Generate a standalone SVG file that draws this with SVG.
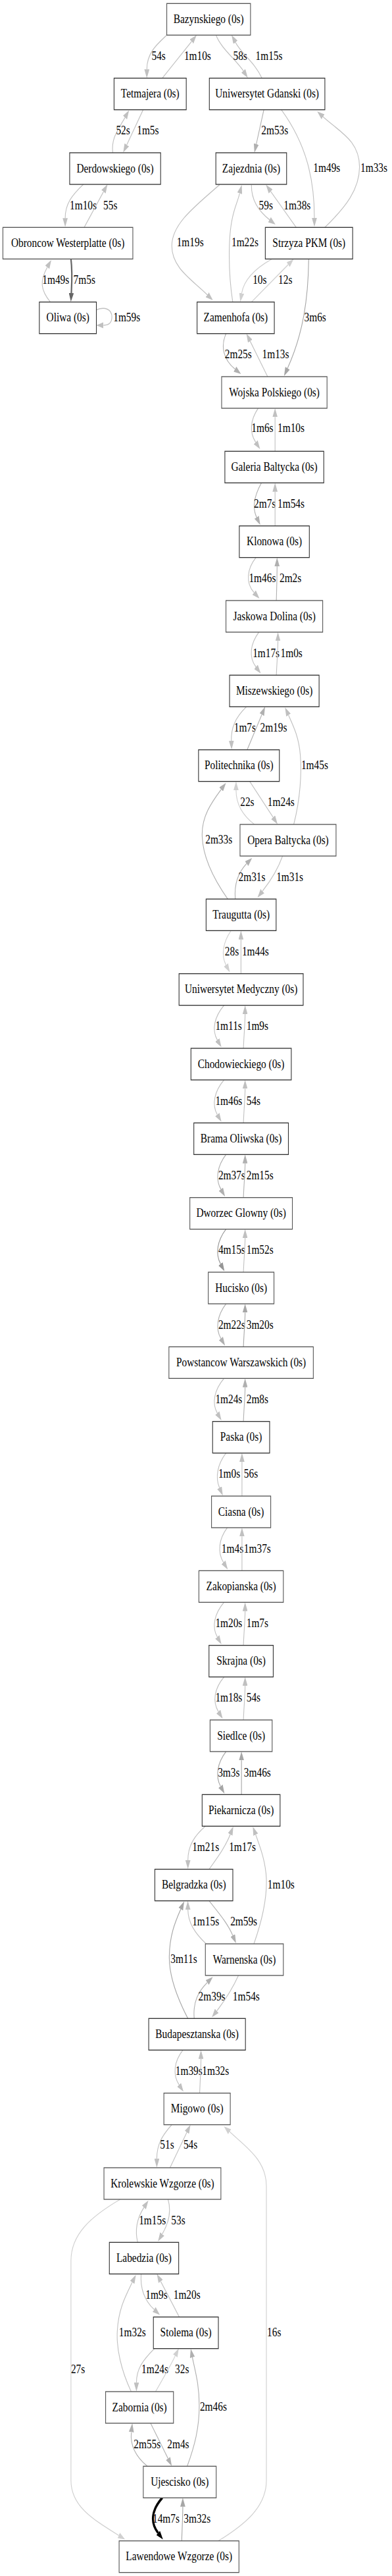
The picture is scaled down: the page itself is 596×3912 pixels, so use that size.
<svg xmlns="http://www.w3.org/2000/svg" width="596" height="3912" viewBox="0 0 596 3912">
<style>
.n rect{fill:#fff;stroke:#333;stroke-width:1}
.n.g rect{stroke:#555}
text{font-family:"Liberation Serif","Times New Roman",serif;font-size:14px;fill:#000}
.n text{text-anchor:middle}
#edges path{fill:none;stroke-width:1}
.A{stroke:#d0d0d0;marker-end:url(#mA)}
.B{stroke:#c0c0c0;marker-end:url(#mB)}
.C{stroke:#b0b0b0;marker-end:url(#mC)}
.D{stroke:#a6a6a6;marker-end:url(#mD)}
.E{stroke:#959595;marker-end:url(#mE)}
#edges .F{stroke:#666;stroke-width:2;marker-end:url(#mF)}
#edges .G{stroke:#000;stroke-width:3;marker-end:url(#mG)}
</style>
<defs>
<marker id="mA" viewBox="0 0 10 7" refX="0" refY="3.5" markerWidth="10" markerHeight="7" markerUnits="userSpaceOnUse" orient="auto"><path d="M0,0L10,3.5L0,7z" fill="#d0d0d0"/></marker>
<marker id="mB" viewBox="0 0 10 7" refX="0" refY="3.5" markerWidth="10" markerHeight="7" markerUnits="userSpaceOnUse" orient="auto"><path d="M0,0L10,3.5L0,7z" fill="#c0c0c0"/></marker>
<marker id="mC" viewBox="0 0 10 7" refX="0" refY="3.5" markerWidth="10" markerHeight="7" markerUnits="userSpaceOnUse" orient="auto"><path d="M0,0L10,3.5L0,7z" fill="#b0b0b0"/></marker>
<marker id="mD" viewBox="0 0 10 7" refX="0" refY="3.5" markerWidth="10" markerHeight="7" markerUnits="userSpaceOnUse" orient="auto"><path d="M0,0L10,3.5L0,7z" fill="#a6a6a6"/></marker>
<marker id="mE" viewBox="0 0 10 7" refX="0" refY="3.5" markerWidth="10" markerHeight="7" markerUnits="userSpaceOnUse" orient="auto"><path d="M0,0L10,3.5L0,7z" fill="#959595"/></marker>
<marker id="mF" viewBox="0 0 10 7" refX="0" refY="3.5" markerWidth="10" markerHeight="7" markerUnits="userSpaceOnUse" orient="auto"><path d="M0,0L10,3.5L0,7z" fill="#666"/></marker>
<marker id="mG" viewBox="0 0 10 7" refX="0" refY="3.5" markerWidth="10" markerHeight="7" markerUnits="userSpaceOnUse" orient="auto"><path d="M0,0L10,3.5L0,7z" fill="#000"/></marker>
</defs>
<rect width="596" height="3912" fill="#fff"/>
<g transform="scale(1.0976,1.33333)">
<g id="edges">
<path class="B" d="M231,40C218,50 203.4,60 203.4,79"/><text x="210" y="68">54s</text>
<path class="B" d="M224.8,89L265.4,47.2"/><text x="255" y="68">1m10s</text>
<path class="B" d="M299.3,40C305,54 328,69 337.1,80.75"/><text x="323" y="68">58s</text>
<path class="B" d="M362.8,89C352,70 335,62 326.2,48.3"/><text x="354" y="68">1m15s</text>
<path class="B" d="M198.3,125L175.6,165"/><text x="189.7" y="153">1m5s</text>
<path class="B" d="M156.2,174C154,158 162,150 173.1,133.9"/><text x="160.7" y="153">52s</text>
<path class="C" d="M365.5,125L355,164.1"/><text x="362" y="153">2m53s</text>
<path class="B" d="M389.7,125C425,165 435.5,205 435.5,248.3"/><text x="434" y="196">1m49s</text>
<path class="B" d="M450,259C480,235 498,215 498,190C498,160 470,150 447.4,133"/><text x="499.3" y="196">1m33s</text>
<path class="B" d="M115.5,210C100,222 90.3,232 90.3,248.5"/><text x="96.6" y="238.7">1m10s</text>
<path class="B" d="M116.6,259L143.4,218.3"/><text x="143.1" y="238.7">55s</text>
<path class="B" d="M304.1,210.5C270,235 238,255 238,280C238,305 265,318 287.1,335.75"/><text x="244.8" y="280.7">1m19s</text>
<path class="B" d="M322.4,344C316,310 316,270 322,248C325,236 329,230 332,220.2"/><text x="320.7" y="280.7">1m22s</text>
<path class="B" d="M348.3,210.5C348,228 358,240 373.3,250.25"/><text x="358.6" y="238.7">59s</text>
<path class="B" d="M410.3,259L374.9,218"/><text x="393" y="238.7">1m38s</text>
<path class="F" d="M98.3,295C100.5,310 99.5,322 98.8,333.75"/><text x="101.7" y="323.2">7m5s</text>
<path class="B" d="M69.7,344C56,330 55,320 65.5,304.4"/><text x="58.6" y="323.2">1m49s</text>
<path class="B" d="M133.4,353C145,349 155,352 155,361C155,368 150,370.5 143.4,370.5"/><text x="156.9" y="365.7">1m59s</text>
<path class="A" d="M376.6,295C355,305 338,318 334.8,334"/><text x="350" y="323.2">10s</text>
<path class="A" d="M348.3,344L399.2,301.4"/><text x="385.5" y="323.2">12s</text>
<path class="D" d="M427.6,295C427,340 420,380 398.3,419.4"/><text x="421.4" y="365.7">3m6s</text>
<path class="C" d="M313.1,380C305,395 310,410 325.5,420.4"/><text x="311.4" y="407.7">2m25s</text>
<path class="B" d="M370.7,429L346.5,388.6"/><text x="363.1" y="407.7">1m13s</text>
<path class="B" d="M357.6,465C347,478 345,492 354.1,503.6"/><text x="348.3" y="492">1m6s</text>
<path class="B" d="M381,514L381,475"/><text x="384.5" y="492">1m10s</text>
<path class="C" d="M362.1,550C352,565 349,578 355.5,589.2"/><text x="351.7" y="578.2">2m7s</text>
<path class="B" d="M381,599L381,560"/><text x="384.5" y="578.2">1m54s</text>
<path class="B" d="M354.5,635C342,648 340,664 352,675"/><text x="344.8" y="663.2">1m46s</text>
<path class="C" d="M382.8,684C383.3,670 383.8,655 383.8,645"/><text x="387.2" y="663.2">2m2s</text>
<path class="B" d="M358.6,720C347,733 344,748 354.5,759.6"/><text x="350" y="748.2">1m17s</text>
<path class="B" d="M382.8,769C383.5,755 385,740 385,730"/><text x="388.6" y="748.2">1m0s</text>
<path class="B" d="M341.4,805C325,818 320,830 320.5,843.75"/><text x="324.1" y="833.2">1m7s</text>
<path class="C" d="M342.4,854L362.7,813.9"/><text x="360.3" y="833.2">2m19s</text>
<path class="B" d="M406.9,939C416,910 418,880 416,860C414,840 407,828 399.6,814.5"/><text x="417.2" y="875.7">1m45s</text>
<path class="B" d="M345.9,890L378.3,930.9"/><text x="370.7" y="918.2">1m24s</text>
<path class="A" d="M352.4,939C335,928 327,915 327,900"/><text x="332.8" y="918.2">22s</text>
<path class="C" d="M315.5,1024C295,1000 280,975 280,950C280,930 292,915 306.3,899.2"/><text x="284.5" y="960.7">2m33s</text>
<path class="C" d="M325.9,1024C324,1005 332,992 341.6,983.7"/><text x="330.3" y="1003.7">2m31s</text>
<path class="B" d="M391.4,975C385,990 375,1003 363.6,1015"/><text x="382.8" y="1003.7">1m31s</text>
<path class="A" d="M320,1060C309,1073 306,1088 313,1099"/><text x="311.4" y="1088.2">28s</text>
<path class="B" d="M333.8,1109L333.8,1070"/><text x="335.2" y="1088.2">1m44s</text>
<path class="B" d="M310.3,1145C297,1158 293,1173 301,1184.5"/><text x="298.3" y="1173.2">1m11s</text>
<path class="B" d="M337.2,1194C337.8,1180 339.5,1165 339.5,1155"/><text x="341.4" y="1173.2">1m9s</text>
<path class="B" d="M310.3,1230C297,1243 293,1258 301,1269.5"/><text x="298.3" y="1258.7">1m46s</text>
<path class="B" d="M337.2,1279C337.8,1265 339.5,1250 339.5,1240"/><text x="341.4" y="1258.7">54s</text>
<path class="C" d="M313.1,1315C301,1328 298,1343 306,1354.5"/><text x="302.4" y="1343.2">2m37s</text>
<path class="C" d="M337.2,1364C337.8,1350 339.5,1335 339.5,1325"/><text x="341.4" y="1343.2">2m15s</text>
<path class="E" d="M313.1,1400C301,1413 298,1428 305.5,1439.5"/><text x="302.4" y="1428.2">4m15s</text>
<path class="B" d="M337.2,1449C337.8,1435 339.5,1420 339.5,1410"/><text x="341.4" y="1428.2">1m52s</text>
<path class="C" d="M313.1,1485C301,1498 298,1513 306,1524.5"/><text x="302.4" y="1513.7">2m22s</text>
<path class="D" d="M337.2,1534C337.8,1520 339.5,1505 339.5,1495"/><text x="341.4" y="1513.7">3m20s</text>
<path class="B" d="M310.3,1570C297,1583 293,1598 301,1609.5"/><text x="298.3" y="1598.2">1m24s</text>
<path class="C" d="M337.2,1619C337.8,1605 339.5,1590 339.5,1580"/><text x="341.4" y="1598.2">2m8s</text>
<path class="B" d="M313.1,1655C301,1668 298,1683 304,1694.5"/><text x="302.4" y="1683.2">1m0s</text>
<path class="B" d="M335.2,1704L335.2,1665"/><text x="337.9" y="1683.2">56s</text>
<path class="B" d="M314.8,1740C303,1753 301,1768 309.5,1779.5"/><text x="306.9" y="1768.7">1m4s</text>
<path class="B" d="M335.2,1789L335.2,1750"/><text x="337.9" y="1768.7">1m37s</text>
<path class="B" d="M310.3,1825C297,1838 293,1853 301,1864.5"/><text x="298.3" y="1853.2">1m20s</text>
<path class="B" d="M337.2,1874C337.8,1860 339.5,1845 339.5,1835"/><text x="341.4" y="1853.2">1m7s</text>
<path class="B" d="M310.3,1910C297,1923 294,1938 302.5,1949.5"/><text x="298.3" y="1938.2">1m18s</text>
<path class="B" d="M337.2,1959C337.8,1945 339.5,1930 339.5,1920"/><text x="341.4" y="1938.2">54s</text>
<path class="D" d="M313.1,1995C301,2008 298,2023 305.5,2034.5"/><text x="301.7" y="2023.2">3m3s</text>
<path class="D" d="M334.5,2044L334.5,2005"/><text x="337.9" y="2023.2">3m46s</text>
<path class="B" d="M284.5,2080C268,2092 260.3,2103 260.3,2118.75"/><text x="266.2" y="2108.2">1m21s</text>
<path class="B" d="M289.7,2129C300,2117 312,2104 318.9,2089.4"/><text x="317.2" y="2108.2">1m17s</text>
<path class="B" d="M351.7,2214C362,2190 370,2165 369,2140C368,2120 360,2103 354.2,2089.7"/><text x="370.7" y="2150.7">1m10s</text>
<path class="C" d="M289.7,2165C302,2178 315,2190 322.4,2204.4"/><text x="319" y="2193.2">2m59s</text>
<path class="B" d="M285.5,2214C270,2202 260.5,2190 260.3,2175"/><text x="266.2" y="2193.2">1m15s</text>
<path class="D" d="M260.3,2299C245,2275 234,2250 234.5,2228C235,2205 242,2190 250.4,2174.5"/><text x="236.2" y="2235.7">3m11s</text>
<path class="C" d="M269,2299C267,2280 275,2268 287.1,2258"/><text x="274.8" y="2278.7">2m39s</text>
<path class="B" d="M330.3,2250C322,2265 310,2280 300.3,2290.4"/><text x="322.4" y="2278.7">1m54s</text>
<path class="B" d="M253.4,2335C241,2348 239,2363 248,2374.5"/><text x="243.1" y="2363.2">1m39s</text>
<path class="B" d="M276.6,2384C277.2,2370 278.4,2355 278.4,2345"/><text x="280" y="2363.2">1m32s</text>
<path class="B" d="M237.9,2420C225,2432 217.2,2442 217.2,2458.75"/><text x="221.7" y="2447.5">51s</text>
<path class="B" d="M235.5,2469L258.8,2428.7"/><text x="254.1" y="2447.5">54s</text>
<path class="A" d="M302.4,2894C340,2875 369,2855 369,2825L369,2490C369,2460 340,2445 318.1,2428"/><text x="370" y="2660.7">16s</text>
<path class="B" d="M232.8,2505C238,2520 233,2533 224.7,2544.6"/><text x="237.2" y="2533.2">53s</text>
<path class="B" d="M190.7,2554C186,2538 191,2525 199.4,2514.2"/><text x="192.4" y="2533.2">1m15s</text>
<path class="A" d="M166.6,2505C125,2525 98.3,2545 98.3,2575L98.3,2825C98.3,2855 130,2870 164.4,2887.75"/><text x="98.3" y="2702.7">27s</text>
<path class="B" d="M195.5,2590C194,2607 200,2620 213.5,2630.5"/><text x="201.7" y="2618.2">1m9s</text>
<path class="B" d="M248.3,2639L222.6,2598.4"/><text x="240.3" y="2618.2">1m20s</text>
<path class="B" d="M181.7,2724C168,2700 161,2675 162.5,2655C164,2630 174,2615 183.2,2599.5"/><text x="164.8" y="2660.7">1m32s</text>
<path class="B" d="M213.8,2675C198,2688 189,2698 189,2713.75"/><text x="195.9" y="2702.7">1m24s</text>
<path class="A" d="M215.5,2724C225,2710 236,2695 242.7,2683.3"/><text x="242.4" y="2702.7">32s</text>
<path class="C" d="M259.3,2809C270,2785 276,2765 276,2740C276,2715 270,2700 266.5,2685"/><text x="276.9" y="2745.7">2m46s</text>
<path class="C" d="M208.6,2760L232.8,2800.2"/><text x="231.7" y="2788.2">2m4s</text>
<path class="C" d="M204.1,2809C188,2798 180,2785 182,2770"/><text x="185.2" y="2788.2">2m55s</text>
<path class="G" d="M224.8,2845C211,2858 207,2872 219,2885"/><text x="211.4" y="2873.2">14m7s</text>
<path class="D" d="M251.7,2894C252.3,2880 253.2,2865 253.2,2855"/><text x="254.5" y="2873.2">3m32s</text>
</g>
<g id="n-bazynskiego" class="n g"><rect x="231" y="4" width="116" height="36"/><text x="289" y="26.2">Bazynskiego (0s)</text></g>
<g id="n-tetmajera" class="n"><rect x="158" y="89" width="100" height="36"/><text x="208" y="111.2">Tetmajera (0s)</text></g>
<g id="n-uniwersytet-gdanski" class="n"><rect x="290" y="89" width="160" height="36"/><text x="370" y="111.2">Uniwersytet Gdanski (0s)</text></g>
<g id="n-derdowskiego" class="n"><rect x="96.5" y="174" width="126" height="36"/><text x="159.5" y="196.2">Derdowskiego (0s)</text></g>
<g id="n-zajezdnia" class="n"><rect x="299" y="174" width="98" height="36"/><text x="348" y="196.2">Zajezdnia (0s)</text></g>
<g id="n-obroncow-westerplatte" class="n g"><rect x="4" y="259" width="180" height="36"/><text x="94" y="281.2">Obroncow Westerplatte (0s)</text></g>
<g id="n-strzyza-pkm" class="n"><rect x="367.5" y="259" width="121" height="36"/><text x="428" y="281.2">Strzyza PKM (0s)</text></g>
<g id="n-oliwa" class="n"><rect x="54.5" y="344" width="79" height="36"/><text x="94" y="366.2">Oliwa (0s)</text></g>
<g id="n-zamenhofa" class="n"><rect x="273" y="344" width="107" height="36"/><text x="326.5" y="366.2">Zamenhofa (0s)</text></g>
<g id="n-wojska-polskiego" class="n g"><rect x="307" y="429" width="146" height="36"/><text x="380" y="451.2">Wojska Polskiego (0s)</text></g>
<g id="n-galeria-baltycka" class="n"><rect x="311.5" y="514" width="137" height="36"/><text x="380" y="536.2">Galeria Baltycka (0s)</text></g>
<g id="n-klonowa" class="n"><rect x="331.5" y="599" width="97" height="36"/><text x="380" y="621.2">Klonowa (0s)</text></g>
<g id="n-jaskowa-dolina" class="n g"><rect x="313" y="684" width="134" height="36"/><text x="380" y="706.2">Jaskowa Dolina (0s)</text></g>
<g id="n-miszewskiego" class="n"><rect x="318" y="769" width="124" height="36"/><text x="380" y="791.2">Miszewskiego (0s)</text></g>
<g id="n-politechnika" class="n"><rect x="275" y="854" width="112" height="36"/><text x="331" y="876.2">Politechnika (0s)</text></g>
<g id="n-opera-baltycka" class="n g"><rect x="332.5" y="939" width="133" height="36"/><text x="399" y="961.2">Opera Baltycka (0s)</text></g>
<g id="n-traugutta" class="n"><rect x="285.5" y="1024" width="97" height="36"/><text x="334" y="1046.2">Traugutta (0s)</text></g>
<g id="n-uniwersytet-medyczny" class="n"><rect x="248" y="1109" width="172" height="36"/><text x="334" y="1131.2">Uniwersytet Medyczny (0s)</text></g>
<g id="n-chodowieckiego" class="n"><rect x="264.5" y="1194" width="139" height="36"/><text x="334" y="1216.2">Chodowieckiego (0s)</text></g>
<g id="n-brama-oliwska" class="n"><rect x="268.5" y="1279" width="131" height="36"/><text x="334" y="1301.2">Brama Oliwska (0s)</text></g>
<g id="n-dworzec-glowny" class="n g"><rect x="263" y="1364" width="142" height="36"/><text x="334" y="1386.2">Dworzec Glowny (0s)</text></g>
<g id="n-hucisko" class="n g"><rect x="288.5" y="1449" width="91" height="36"/><text x="334" y="1471.2">Hucisko (0s)</text></g>
<g id="n-powstancow-warszawskich" class="n g"><rect x="234" y="1534" width="200" height="36"/><text x="334" y="1556.2">Powstancow Warszawskich (0s)</text></g>
<g id="n-paska" class="n"><rect x="294.5" y="1619" width="79" height="36"/><text x="334" y="1641.2">Paska (0s)</text></g>
<g id="n-ciasna" class="n g"><rect x="293" y="1704" width="82" height="36"/><text x="334" y="1726.2">Ciasna (0s)</text></g>
<g id="n-zakopianska" class="n g"><rect x="275.5" y="1789" width="117" height="36"/><text x="334" y="1811.2">Zakopianska (0s)</text></g>
<g id="n-skrajna" class="n"><rect x="289.5" y="1874" width="89" height="36"/><text x="334" y="1896.2">Skrajna (0s)</text></g>
<g id="n-siedlce" class="n g"><rect x="291" y="1959" width="86" height="36"/><text x="334" y="1981.2">Siedlce (0s)</text></g>
<g id="n-piekarnicza" class="n"><rect x="280" y="2044" width="108" height="36"/><text x="334" y="2066.2">Piekarnicza (0s)</text></g>
<g id="n-belgradzka" class="n"><rect x="214.5" y="2129" width="108" height="36"/><text x="268.5" y="2151.2">Belgradzka (0s)</text></g>
<g id="n-warnenska" class="n g"><rect x="284.5" y="2214" width="108" height="36"/><text x="338.5" y="2236.2">Warnenska (0s)</text></g>
<g id="n-budapesztanska" class="n"><rect x="206" y="2299" width="134" height="36"/><text x="273" y="2321.2">Budapesztanska (0s)</text></g>
<g id="n-migowo" class="n g"><rect x="227" y="2384" width="92" height="36"/><text x="273" y="2406.2">Migowo (0s)</text></g>
<g id="n-krolewskie-wzgorze" class="n g"><rect x="144" y="2469" width="162" height="36"/><text x="225" y="2491.2">Krolewskie Wzgorze (0s)</text></g>
<g id="n-labedzia" class="n"><rect x="151.5" y="2554" width="96" height="36"/><text x="199.5" y="2576.2">Labedzia (0s)</text></g>
<g id="n-stolema" class="n"><rect x="212.5" y="2639" width="90" height="36"/><text x="257.5" y="2661.2">Stolema (0s)</text></g>
<g id="n-zabornia" class="n g"><rect x="146.3" y="2724" width="94" height="36"/><text x="193.3" y="2746.2">Zabornia (0s)</text></g>
<g id="n-ujescisko" class="n g"><rect x="198.5" y="2809" width="101" height="36"/><text x="249" y="2831.2">Ujescisko (0s)</text></g>
<g id="n-lawendowe-wzgorze" class="n g"><rect x="165" y="2894" width="166" height="36"/><text x="248" y="2916.2">Lawendowe Wzgorze (0s)</text></g>
</g>
</svg>
